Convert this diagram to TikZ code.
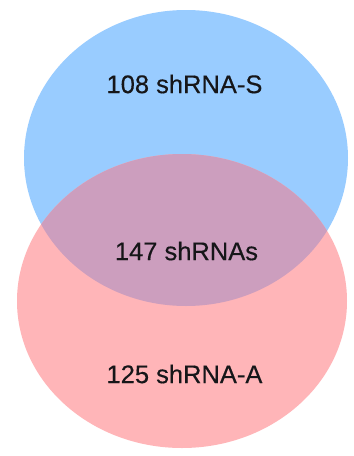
\documentclass[tikz,border=0pt]{standalone}
\usepackage{fontspec}
\setmainfont{Liberation Sans}
\newfontfamily\labfont{Liberation Sans}[FakeBold=0.35]
\definecolor{setS}{HTML}{99CCFF}
\definecolor{setA}{HTML}{FFB5B8}
\definecolor{both}{HTML}{CC9EBE}
\definecolor{lbl}{HTML}{161619}
\begin{document}
\begin{tikzpicture}[x=1pt,y=-1pt,
  lab/.style={inner sep=0pt,text=lbl,font=\labfont\fontsize{25.5}{28}\selectfont}]
\useasboundingbox (0,0) rectangle (354,456);
\fill[white] (0,0) rectangle (354,456);
% set S (blue)
\fill[setS] (186,158) ellipse [x radius=162, y radius=148];
% set A (pink)
\fill[setA] (182,301) ellipse [x radius=165, y radius=147];
% overlap
\begin{scope}
  \clip (186,158) ellipse [x radius=162, y radius=148];
  \fill[both] (182,301) ellipse [x radius=165, y radius=147];
\end{scope}
\node[lab] (s) at (184.5,84) {108 shRNA-S};
\node[lab] (sa) at (186.5,251) {147 shRNAs};
\node[lab] (a) at (184.5,374) {125 shRNA-A};
\end{tikzpicture}
\end{document}
